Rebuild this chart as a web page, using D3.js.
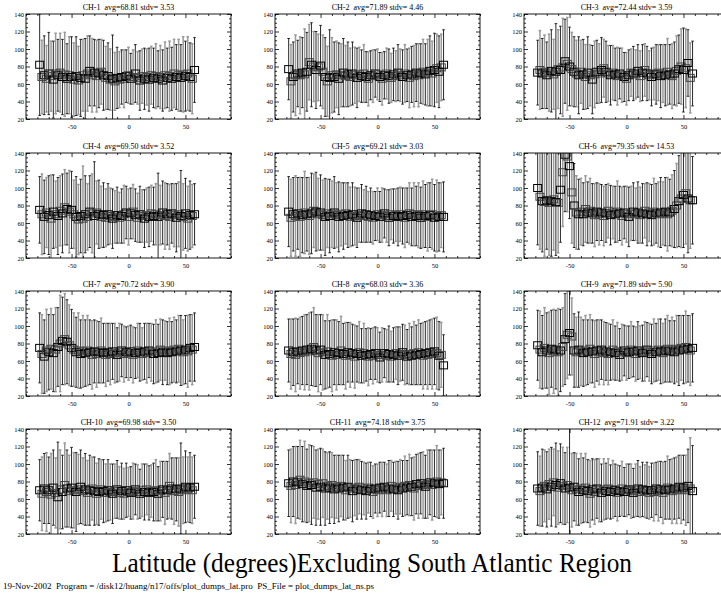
<!DOCTYPE html>
<html><head><meta charset="utf-8">
<script src="https://cdn.jsdelivr.net/npm/d3@7"></script>
<style>
body{margin:0;background:#fff;}
svg{display:block;}
</style></head><body>
<svg id="chart" width="721" height="594"></svg>
<script>
// latitude bin centres (degrees)
const lat = [-78,-76,-74,-72,-70,-68,-66,-64,-62,-60,
  -58,-56,-54,-52,-50,-48,-46,-44,-42,-40,
  -38,-36,-34,-32,-30,-28,-26,-24,-22,-20,
  -18,-16,-14,-12,-10,-8,-6,-4,-2,0,
  2,4,6,8,10,12,14,16,18,20,
  22,24,26,28,30,32,34,36,38,40,
  42,44,46,48,50,52,54,56,58];

const channels = ["CH-1","CH-2","CH-3","CH-4","CH-5","CH-6","CH-7","CH-8","CH-9","CH-10","CH-11","CH-12"];
const avgLabels = ["68.81","71.89","72.44","69.50","69.21","79.35","70.72","68.03","71.89","69.98","74.18","71.91"];
const stdvLabels = ["3.53","4.46","3.59","3.52","3.03","14.53","3.90","3.36","5.90","3.50","3.75","3.22"];
const xTicks = [-50, 0, 50];
const yTicks = [20, 40, 60, 80, 100, 120, 140];

// mean dump counts per latitude bin and their standard deviation
const ch1Mean = [82,68,70,66,72,69,65,72,70,73, 68,71,66,70,68,65,69,64,67,70, 66,72,75,70,73,69,72,74,70,67, 69,65,66,63,67,65,68,66,69,70, 66,68,72,67,64,69,66,68,65,70, 67,69,66,68,64,70,67,69,66,72, 68,70,67,71,69,72,68,66,76];
const ch1Sd   = [58,42,45,38,47,40,44,46,41,45, 43,48,40,44,46,42,45,39,44,41, 46,43,40,42,38,41,39,37,40,36, 38,35,50,33,35,32,31,33,30,32, 29,31,33,30,34,31,35,32,36,33, 34,37,32,36,35,38,34,40,36,39, 37,41,38,43,40,42,39,40,37];
const ch2Mean = [77,63,68,70,72,70,73,71,74,85, 82,80,76,79,81,74,68,63,67,70, 68,71,66,70,73,69,71,68,72,70, 67,71,69,72,68,66,70,69,72,71, 68,66,70,72,69,67,71,69,73,70, 68,72,70,67,71,69,73,70,72,74, 71,73,75,72,76,78,74,79,82];
const ch2Sd   = [35,42,40,46,38,44,40,52,45,43, 48,40,44,38,46,42,45,40,55,43, 40,38,41,36,39,35,37,33,36,32, 34,31,30,33,29,31,28,30,27,29, 28,30,27,29,31,28,30,29,32,30, 31,33,30,34,32,35,33,36,34,37, 35,38,40,37,42,39,41,38,40];
const ch3Mean = [73,76,72,74,70,73,75,71,74,77, 76,79,86,83,80,77,74,72,70,74, 71,68,73,70,65,71,74,72,76,78, 74,72,70,73,71,69,72,70,68,66, 70,73,72,71,75,69,73,76,72,70, 68,72,71,73,69,72,70,74,71,69, 72,75,77,80,76,78,84,67,72];
const ch3Sd   = [37,45,40,42,38,44,47,40,55,45, 50,56,48,53,45,42,40,38,44,36, 40,37,41,35,39,38,36,34,37,33, 35,32,34,31,30,33,29,31,28,30, 29,27,31,28,30,29,32,30,31,28, 33,30,34,32,36,33,35,38,34,37, 36,40,39,43,48,45,38,40,37];
const ch4Mean = [75,70,67,72,69,65,73,70,68,74, 71,78,76,73,75,70,67,64,68,65, 70,67,73,71,68,72,70,67,69,66, 70,68,65,67,69,66,68,70,72,67, 71,73,69,66,70,68,65,69,67,71, 68,70,67,69,72,68,70,67,71,69, 66,70,68,67,71,65,69,68,70];
const ch4Sd   = [38,46,42,40,45,50,42,38,44,40, 45,43,41,47,44,39,46,40,42,60, 44,38,41,45,62,36,39,35,37,33, 35,32,34,30,32,29,31,33,30,32, 29,31,30,28,32,30,33,31,34,32, 33,35,50,34,36,38,35,37,34,36, 39,37,52,38,40,37,39,36,35];
const ch5Mean = [73,66,70,68,71,67,69,72,70,68, 71,74,73,70,72,69,67,71,68,70, 72,69,67,70,68,71,69,67,70,68, 66,69,71,68,70,67,69,66,68,70, 67,69,71,68,66,70,68,69,67,70, 68,66,69,71,67,70,68,69,66,70, 68,67,69,70,66,68,67,69,67];
const ch5Sd   = [40,44,42,46,41,45,43,47,42,44, 46,42,45,41,43,40,44,39,42,38, 41,37,40,36,38,35,37,34,36,33, 34,31,33,30,32,29,31,30,28,30, 29,31,28,30,32,29,31,30,33,31, 32,34,31,35,33,36,34,37,35,38, 36,39,37,40,38,41,39,37,40];
const ch6Mean = [100,90,85,84,86,83,85,87,84,83, 98,118,138,136,125,95,80,72,70,73, 70,76,72,74,71,69,73,70,72,68, 71,74,69,72,70,73,71,68,72,70, 67,71,73,70,72,69,71,74,70,72, 69,73,71,70,72,71,73,70,72,74, 76,80,85,88,92,94,88,86,86];
const ch6Sd   = [65,60,58,62,56,60,63,58,61,57, 60,62,65,63,60,58,48,42,40,38, 36,38,35,37,34,36,33,35,32,34, 33,31,34,30,32,35,31,33,30,32, 34,31,33,30,35,32,34,31,36,33, 35,38,34,37,40,36,39,42,38,41, 44,48,52,56,60,58,62,55,50];
const ch7Mean = [75,68,65,72,70,74,69,73,76,80, 83,85,82,78,75,73,70,72,68,71, 69,72,70,67,71,68,70,72,69,67, 70,68,71,69,67,70,72,68,70,69, 71,67,69,72,70,68,71,69,72,70, 68,71,69,73,70,72,69,71,70,73, 71,74,72,70,73,71,75,73,76];
const ch7Sd   = [40,45,42,47,43,46,44,48,45,55, 50,52,48,46,44,42,40,43,39,41, 38,40,37,39,36,38,35,37,34,36, 33,35,32,34,31,33,30,32,29,31, 30,32,29,31,33,30,32,34,31,33, 34,36,33,35,37,34,36,38,35,37, 36,38,40,37,39,41,38,40,39];
const ch8Mean = [72,68,70,67,71,69,72,70,73,71, 74,76,72,69,73,70,67,71,68,66, 70,67,69,72,68,66,70,67,69,65, 68,70,66,69,67,65,68,66,69,67, 64,67,69,66,68,65,67,69,66,68, 70,67,65,68,66,69,67,70,68,66, 69,67,70,68,71,69,66,67,55];
const ch8Sd   = [36,40,38,42,37,41,39,43,40,44, 42,45,41,44,40,43,39,42,38,41, 37,40,36,39,35,38,34,37,33,36, 32,35,31,34,30,33,29,32,30,31, 29,31,28,30,32,29,31,30,33,31, 32,34,31,35,33,36,34,37,35,38, 36,39,37,40,38,41,39,37,35];
const ch9Mean = [78,73,70,75,72,69,74,71,73,70, 72,76,85,90,92,88,72,70,73,71, 69,72,70,74,71,68,72,70,73,69, 71,68,70,73,69,71,67,70,72,69, 70,73,71,68,72,70,69,71,73,70, 68,72,70,73,71,69,72,74,71,73, 70,74,72,75,73,76,74,72,75];
const ch9Sd   = [40,44,42,46,43,47,44,48,45,50, 47,45,52,50,48,44,42,40,43,39, 38,40,37,39,36,38,35,37,34,36, 33,35,32,34,31,33,30,32,29,31, 30,32,29,31,33,30,32,34,31,33, 34,36,33,35,37,34,36,38,35,37, 36,38,40,37,39,41,38,40,39];
const ch10Mean = [70,66,72,68,70,65,73,67,62,71, 68,76,72,69,73,70,68,71,74,69, 71,67,70,72,69,66,68,71,69,67, 70,68,66,69,71,67,69,66,70,68, 67,69,71,68,66,70,68,71,67,69, 68,70,66,69,71,67,70,75,72,69, 71,68,72,70,74,71,73,70,74];
const ch10Sd   = [35,42,40,45,38,47,43,40,63,45, 42,48,44,41,46,43,45,40,42,38, 41,37,40,36,39,35,38,34,36,33, 35,32,34,31,33,30,32,29,31,28, 30,32,29,31,28,30,32,29,31,30, 33,35,31,34,32,36,33,37,35,38, 36,39,52,38,41,37,40,38,36];
const ch11Mean = [78,75,80,76,79,82,77,80,75,78, 76,79,73,77,74,78,72,75,73,76, 71,74,72,75,73,70,74,72,69,73, 71,74,70,72,69,73,71,68,72,70, 73,71,74,70,72,75,71,73,70,74, 72,75,73,76,74,72,77,75,78,76, 74,77,79,76,78,80,77,79,78];
const ch11Sd   = [38,42,40,44,41,45,43,46,42,44, 45,41,43,40,44,39,42,38,41,37, 39,36,38,35,37,34,36,33,35,32, 34,31,33,30,32,29,31,30,28,30, 29,31,28,30,32,29,31,30,33,31, 32,34,31,35,33,36,34,37,35,38, 36,39,37,40,38,41,39,37,40];
const ch12Mean = [72,69,73,75,71,77,74,79,76,73, 78,75,72,76,73,70,74,71,68,72, 70,73,69,66,71,68,72,70,67,71, 69,72,68,71,70,67,69,72,68,70, 71,69,67,70,72,68,71,69,70,67, 70,68,72,69,71,67,70,73,71,69, 72,70,74,71,73,70,75,72,69];
const ch12Sd   = [42,40,44,41,43,40,45,38,48,42, 45,44,41,43,68,42,39,41,38,40, 37,39,36,38,35,37,34,36,33,35, 32,34,31,33,30,32,29,31,28,30, 29,31,28,30,32,29,31,30,32,30, 31,33,30,34,32,35,33,36,34,37, 35,38,36,39,37,40,42,58,52];

const means = [ch1Mean,ch2Mean,ch3Mean,ch4Mean,ch5Mean,ch6Mean,ch7Mean,ch8Mean,ch9Mean,ch10Mean,ch11Mean,ch12Mean];
const sds = [ch1Sd,ch2Sd,ch3Sd,ch4Sd,ch5Sd,ch6Sd,ch7Sd,ch8Sd,ch9Sd,ch10Sd,ch11Sd,ch12Sd];

const serif = "'Liberation Serif','Times New Roman',serif";
const svg = d3.select("#chart");

// panel grid
const colLeft = [26, 275, 524];
const rowTop = [14, 153, 291, 429];
const boxW = 205, boxH = 105;

const x = d3.scaleLinear().domain([-90, 90]).range([0, boxW]);
const y = d3.scaleLinear().domain([20, 140]).range([boxH, 0]);

const xMinor = d3.range(-90, 91, 10).filter(v => !xTicks.includes(v));
const yMinor = d3.range(20, 141, 5).filter(v => !yTicks.includes(v));

function styleAxis(sel) {
  sel.select(".domain").remove();
  sel.selectAll(".tick line").attr("stroke", "#000").attr("stroke-width", 0.8);
  sel.attr("font-family", serif).attr("font-size", 6.5);
  sel.selectAll("text").attr("fill", "#000");
}

channels.forEach((name, i) => {
  const g = svg.append("g")
    .attr("transform", `translate(${colLeft[i % 3]},${rowTop[Math.floor(i / 3)]})`);

  const cid = "clip" + i;
  g.append("clipPath").attr("id", cid)
    .append("rect").attr("width", boxW).attr("height", boxH);
  const plot = g.append("g").attr("clip-path", `url(#${cid})`);

  const pts = lat.map((l, k) => ({ lat: l, m: means[i][k], s: sds[i][k], grey: k % 2 === 1 }));

  // error bars: grey series underneath, black series on top
  [true, false].forEach(isGrey => {
    const sub = pts.filter(d => d.grey === isGrey);
    const col = isGrey ? "#9a9a9a" : "#111";
    const w = isGrey ? 1.5 : 0.9;
    const bars = plot.append("g").attr("stroke", col).attr("stroke-width", w).attr("fill", "none");
    bars.selectAll("line.v").data(sub).join("line").attr("class", "v")
      .attr("x1", d => x(d.lat)).attr("x2", d => x(d.lat))
      .attr("y1", d => y(d.m - d.s)).attr("y2", d => y(d.m + d.s));
    bars.selectAll("line.hi").data(sub).join("line").attr("class", "hi")
      .attr("x1", d => x(d.lat) - 1.3).attr("x2", d => x(d.lat) + 1.3)
      .attr("y1", d => y(d.m + d.s)).attr("y2", d => y(d.m + d.s));
    bars.selectAll("line.lo").data(sub).join("line").attr("class", "lo")
      .attr("x1", d => x(d.lat) - 1.3).attr("x2", d => x(d.lat) + 1.3)
      .attr("y1", d => y(d.m - d.s)).attr("y2", d => y(d.m - d.s));
  });

  // mean markers
  plot.append("g").selectAll("rect").data(pts).join("rect")
    .attr("x", d => x(d.lat) - 4).attr("y", d => y(d.m) - 3.5)
    .attr("width", 8).attr("height", 7)
    .attr("fill", "none")
    .attr("stroke", d => d.grey ? "#444" : "#000")
    .attr("stroke-width", 1);

  // axes with inward ticks on all four sides
  const ax = g.append("g");
  ax.append("g").attr("transform", `translate(0,${boxH})`)
    .call(d3.axisBottom(x).tickValues(xTicks).tickSize(-4).tickSizeOuter(0).tickPadding(5).tickFormat(d => String(d)))
    .call(styleAxis);
  ax.append("g").attr("transform", `translate(0,${boxH})`)
    .call(d3.axisBottom(x).tickValues(xMinor).tickSize(-2).tickSizeOuter(0).tickFormat(""))
    .call(styleAxis);
  ax.append("g")
    .call(d3.axisTop(x).tickValues(xTicks).tickSize(-4).tickSizeOuter(0).tickFormat(""))
    .call(styleAxis);
  ax.append("g")
    .call(d3.axisTop(x).tickValues(xMinor).tickSize(-2).tickSizeOuter(0).tickFormat(""))
    .call(styleAxis);
  ax.append("g")
    .call(d3.axisLeft(y).tickValues(yTicks).tickSize(-4).tickSizeOuter(0).tickPadding(2).tickFormat(d => String(d)))
    .call(styleAxis);
  ax.append("g")
    .call(d3.axisLeft(y).tickValues(yMinor).tickSize(-2).tickSizeOuter(0).tickFormat(""))
    .call(styleAxis);
  ax.append("g").attr("transform", `translate(${boxW},0)`)
    .call(d3.axisRight(y).tickValues(yTicks).tickSize(-4).tickSizeOuter(0).tickFormat(""))
    .call(styleAxis);
  ax.append("g").attr("transform", `translate(${boxW},0)`)
    .call(d3.axisRight(y).tickValues(yMinor).tickSize(-2).tickSizeOuter(0).tickFormat(""))
    .call(styleAxis);

  g.append("rect").attr("width", boxW).attr("height", boxH)
    .attr("fill", "none").attr("stroke", "#000").attr("stroke-width", 0.9);

  g.append("text")
    .attr("x", boxW / 2).attr("y", -4)
    .attr("text-anchor", "middle")
    .attr("font-family", serif).attr("font-size", 8)
    .style("white-space", "pre")
    .text(`${name}  avg=${avgLabels[i]} stdv= ${stdvLabels[i]}`);
});

svg.append("text")
  .attr("x", 372).attr("y", 572)
  .attr("text-anchor", "middle")
  .attr("font-family", serif).attr("font-size", 28)
  .attr("textLength", 520).attr("lengthAdjust", "spacingAndGlyphs")
  .text("Latitude (degrees)Excluding South Atlantic Region");

svg.append("text")
  .attr("x", 3).attr("y", 589)
  .attr("font-family", serif).attr("font-size", 9)
  .style("white-space", "pre")
  .text("19-Nov-2002  Program = /disk12/huang/n17/offs/plot_dumps_lat.pro  PS_File = plot_dumps_lat_ns.ps");
</script>
</body></html>
